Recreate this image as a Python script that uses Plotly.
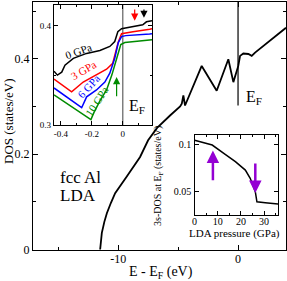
import plotly.graph_objects as go

W, H = 287, 281
FONT = "Liberation Serif"

# ---- main panel: total DOS of fcc Al (LDA) ----
e_main = [-11.5, -11.45, -11.36, -11.15, -10.94, -10.6, -10.25, -9.28, -8.17, -7.5,
          -6.75, -5.67, -4.83, -4.69, -4.56, -4.42, -3.03, -1.78, -0.81, -0.39,
          0.02, 0.17, 0.44, 0.86, 1.14, 1.42, 4.0]
dos_main = [0.0, 0.018, 0.035, 0.058, 0.076, 0.098, 0.118, 0.153, 0.194, 0.229,
            0.255, 0.281, 0.300, 0.306, 0.323, 0.302, 0.385, 0.333, 0.399, 0.351,
            0.385, 0.406, 0.411, 0.410, 0.406, 0.413, 0.465]
ef_line_e = [0, 0]
ef_line_dos = [0.302, 0.52]

# ---- inset 1: DOS near E_F for several pressures ----
e_0 = [-0.445, -0.423, -0.395, -0.374, -0.32, -0.234, -0.148, -0.084, -0.052, -0.032,
       -0.008, 0.024, 0.065, 0.129, 0.153, 0.189]
d_0 = [0.354, 0.350, 0.353, 0.360, 0.367, 0.372, 0.375, 0.379, 0.384, 0.394,
       0.397, 0.398, 0.399, 0.401, 0.404, 0.405]
e_3 = [-0.445, -0.331, -0.256, -0.17, -0.105, -0.065, -0.045, -0.03, -0.008, 0.024,
       0.066, 0.174, 0.189]
d_3 = [0.346, 0.333, 0.343, 0.350, 0.356, 0.362, 0.373, 0.383, 0.392, 0.393,
       0.394, 0.3965, 0.397]
e_6 = [-0.445, -0.266, -0.234, -0.17, -0.116, -0.084, -0.052, -0.029, -0.008, 0.019,
       0.174, 0.189]
d_6 = [0.337, 0.317, 0.328, 0.335, 0.343, 0.352, 0.367, 0.383, 0.389, 0.390,
       0.3917, 0.392]
e_10 = [-0.445, -0.206, -0.187, -0.148, -0.105, -0.071, -0.039, -0.013, 0.013, 0.189]
d_10 = [0.330, 0.305, 0.312, 0.324, 0.335, 0.350, 0.367, 0.381, 0.383, 0.3857]
pressure_labels = ["0 GPa", "3 GPa", "6 GPa", "10 GPa"]
label_e = [-0.284, -0.252, -0.219, -0.168]
label_d = [0.374, 0.355, 0.339, 0.324]
label_angle = [-20, -30, -48, -57]

# ---- inset 2: 3s-DOS at E_F vs pressure ----
p_gpa = [0, 7.6, 12.6, 17.6, 21.9, 24.0, 26.2, 26.9, 30.5, 36.2]
dos3s = [0.104, 0.0989, 0.0901, 0.0812, 0.0723, 0.0635, 0.0493, 0.0386, 0.0376, 0.0362]

colors = ["black", "#ff0000", "#0000ff", "#008b00"]


def px(x):
    return x / W


def py(y):
    return 1 - y / H


fig = go.Figure()
fig.add_trace(go.Scatter(x=e_main, y=dos_main, mode="lines",
                         line=dict(color="black", width=1.8), xaxis="x", yaxis="y"))
fig.add_trace(go.Scatter(x=ef_line_e, y=ef_line_dos, mode="lines",
                         line=dict(color="black", width=1.2), xaxis="x", yaxis="y"))

fig.add_trace(go.Scatter(x=[0, 0], y=[0.29, 0.43], mode="lines",
                         line=dict(color="#606060", width=1.2), xaxis="x2", yaxis="y2"))
for ex, dy, c in zip([e_0, e_3, e_6, e_10], [d_0, d_3, d_6, d_10], colors):
    fig.add_trace(go.Scatter(x=ex, y=dy, mode="lines", line=dict(color=c, width=1.5),
                             xaxis="x2", yaxis="y2"))

fig.add_trace(go.Scatter(x=p_gpa, y=dos3s, mode="lines",
                         line=dict(color="black", width=1.5), xaxis="x3", yaxis="y3"))

axis_common = dict(showline=True, linecolor="black", linewidth=1.3, mirror="allticks",
                   ticks="inside", tickcolor="black", showgrid=False, zeroline=False,
                   automargin=False)

fig.update_layout(
    width=W, height=H, margin=dict(l=0, r=0, t=0, b=0, autoexpand=False),
    paper_bgcolor="white", plot_bgcolor="white", showlegend=False,
    font=dict(family=FONT, color="black"),
    xaxis=dict(domain=[px(33), px(286)], range=[-17.1, 4.0], anchor="y",
               tickvals=[-10, 0], ticktext=["-10", "0"], ticklen=5, tickwidth=1.2,
               tickfont=dict(size=12, family=FONT), ticklabelstandoff=-3,
               minor=dict(tickvals=[-15, -5], ticks="inside", ticklen=3, tickcolor="black"),
               **axis_common),
    yaxis=dict(domain=[py(250), py(2)], range=[-0.001, 0.519], anchor="x",
               tickvals=[0, 0.2, 0.4], ticktext=["0", "0.2", "0.4"], ticklen=5, tickwidth=1.2,
               tickfont=dict(size=12, family=FONT),
               minor=dict(tickvals=[0.1, 0.3, 0.5], ticks="inside", ticklen=3, tickcolor="black"),
               **axis_common),
    xaxis2=dict(domain=[px(54), px(152)], range=[-0.445, 0.189], anchor="y2",
                tickvals=[-0.4, -0.2, 0], ticktext=["-0.4", "-0.2", "0"], ticklen=4,
                tickfont=dict(size=9, family=FONT),
                minor=dict(tickvals=[-0.3, -0.1, 0.1], ticks="inside", ticklen=2, tickcolor="black"),
                **axis_common),
    yaxis2=dict(domain=[py(125), py(5)], range=[0.2995, 0.421], anchor="x2",
                tickvals=[0.3, 0.4], ticktext=["0.3", "0.4"], ticklen=4,
                tickfont=dict(size=9, family=FONT),
                minor=dict(tickvals=[0.35], ticks="inside", ticklen=2, tickcolor="black"),
                **axis_common),
    xaxis3=dict(domain=[px(194.5), px(278)], range=[-0.05, 36], anchor="y3",
                tickvals=[0, 10, 20, 30], ticktext=["0", "10", "20", "30"], ticklen=4,
                tickfont=dict(size=10, family=FONT), ticklabelstandoff=-3,
                minor=dict(tickvals=[5, 15, 25, 35], ticks="inside", ticklen=2, tickcolor="black"),
                **axis_common),
    yaxis3=dict(domain=[py(215), py(135)], range=[0.0245, 0.1096], anchor="x3",
                tickvals=[0.05, 0.1], ticktext=["0.05", "0.1"], ticklen=4,
                tickfont=dict(size=10, family=FONT),
                **axis_common),
)

C = dict(xanchor="center", yanchor="middle", showarrow=False)
ann = []
# axis titles
ann.append(dict(text="DOS (states/eV)", x=px(8), y=py(121), xref="paper", yref="paper",
                textangle=-90, font=dict(size=13, family=FONT), **C))
ann.append(dict(text="E - E<sub>F</sub> (eV)", x=px(161), y=py(272), xref="paper", yref="paper",
                font=dict(size=14, family=FONT), **C))
# main text
ann.append(dict(text="fcc Al", x=-15.0, y=0.150, xref="x", yref="y", xanchor="left",
                yanchor="middle", showarrow=False, font=dict(size=17, family=FONT)))
ann.append(dict(text="LDA", x=-15.0, y=0.113, xref="x", yref="y", xanchor="left",
                yanchor="middle", showarrow=False, font=dict(size=17, family=FONT)))
ann.append(dict(text="E<sub>F</sub>", x=1.35, y=0.318, xref="x", yref="y",
                font=dict(size=16, family=FONT), **C))
# inset 1 texts
for t, ex, dy, ang, c in zip(pressure_labels, label_e, label_d, label_angle, colors):
    ann.append(dict(text=t, x=ex, y=dy, xref="x2", yref="y2", textangle=ang,
                    font=dict(size=11, family=FONT, color=c), **C))
ann.append(dict(text="E<sub>F</sub>", x=0.09, y=0.318, xref="x2", yref="y2",
                font=dict(size=16, family=FONT), **C))
# inset 1 arrows
for xh, yh, yt, c in [(0.077, 0.405, 0.418, "#ff0000"), (0.137, 0.408, 0.418, "black"),
                      (-0.04, 0.348, 0.327, "#008b00")]:
    ann.append(dict(x=xh, y=yh, ax=xh, ay=yt, xref="x2", yref="y2", axref="x2", ayref="y2",
                    showarrow=True, arrowhead=2, arrowsize=1.2, arrowwidth=1.2, arrowcolor=c, text=""))
# inset 2 titles
ann.append(dict(text="3s-DOS at E<sub>F</sub> (states/eV)", x=px(158), y=py(176),
                xref="paper", yref="paper", textangle=-90,
                font=dict(size=10, family=FONT), **C))
ann.append(dict(text="LDA pressure (GPa)", x=px(234), y=py(233), xref="paper", yref="paper",
                font=dict(size=11, family=FONT), **C))
# inset 2 arrows
for xh, yh, yt in [(7.9, 0.093, 0.060), (26.2, 0.048, 0.081)]:
    ann.append(dict(x=xh, y=yh, ax=xh, ay=yt, xref="x3", yref="y3", axref="x3", ayref="y3",
                    showarrow=True, arrowhead=2, arrowsize=1.0, arrowwidth=2.5,
                    arrowcolor="#9400d3", text=""))

fig.update_layout(annotations=ann)
fig.write_html("out.html", config={"displayModeBar": False},
               post_script="document.body.style.margin='0';document.body.style.overflow='hidden';")
